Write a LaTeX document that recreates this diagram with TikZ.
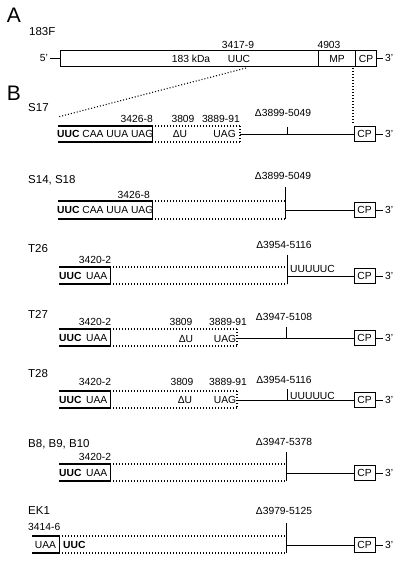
\documentclass[tikz,border=0pt]{standalone}
\usepackage{fontspec}
\setmainfont{Liberation Sans}
\begin{document}
\begin{tikzpicture}[x=1pt,y=-1pt,
	lbl/.style={font=\fontsize{10.3}{12}\selectfont, inner sep=0pt, text height=7.4pt, text depth=0pt},
	rowname/.style={font=\fontsize{11.5}{13}\selectfont, inner sep=0pt, text height=8.2pt, text depth=0pt, anchor=west},
	panel/.style={font=\fontsize{21}{24}\selectfont, inner sep=0pt, text height=15pt, text depth=0pt},
	dots/.style={line width=1.1pt, dash pattern=on 1pt off 2pt},
	seg/.style={line width=0.95pt},
	rim/.style={line width=1.4pt},
	cpbox/.style={draw, line width=0.95pt, minimum width=21pt, minimum height=15pt, inner sep=0pt, font=\fontsize{10.3}{12}\selectfont},
	end/.style={lbl, anchor=west, inner xsep=2pt}]
	\useasboundingbox (0,0) rectangle (400,563);

	% panel A: the whole genome
	\node[panel] (pA) at (14,15) {A};
	\node[rowname] (g183) at (29,31) {183F};
	\draw[seg] (60,50) rectangle (376,66); % genome box
	\draw[seg] (318,50) -- (318,66); % MP start
	\draw[seg] (355,50) -- (355,66); % CP start
	\node[lbl, anchor=east, inner xsep=2pt] (fiveA) at (50,58) {5'};
	\draw[seg] (fiveA.east) -- (60,58);
	\node[end] (threeA) at (383,58) {3'};
	\draw[seg] (376,58) -- (threeA.west);
	\node[lbl] (kda) at (191,59) {183 kDa};
	\node[lbl] (uucA) at (239,59) {UUC};
	\node[lbl] (mp) at (337,59) {MP};
	\node[lbl] (cpA) at (366,59) {CP};
	\node[lbl] (posA) at (238,45) {3417-9};
	\node[lbl] (posB) at (329,45) {4903};
	\draw[dots] (246,68) -- (58,117); % zoom to S17
	\draw[dots] (353,68) -- (353,124);

	% panel B
	\node[panel] (pB) at (14,93) {B};

	% S17
	\node[rowname] (s17) at (28,107) {S17};
	\draw[rim] (58,126) -- (152,126) (58,142) -- (152,142);
	\draw[seg] (152,126) -- (152,142);
	\draw[dots] (152,126) -- (240,126) (152,142) -- (240,142) (240,126) -- (240,142);
	\node[lbl, anchor=west] (seqA) at (57,134) {\textbf{UUC} CAA UUA UAG};
	\node[lbl, anchor=east] (p17a) at (153,119) {3426-8};
	\node[lbl] (p17b) at (183,119) {3809};
	\node[lbl, anchor=east] (p17c) at (240,119) {3889-91};
	\node[lbl] (du17) at (180,134) {ΔU};
	\node[lbl, anchor=east] (uag17) at (236,134) {UAG};
	\node[lbl] (del17) at (283,113) {Δ3899-5049};
	\node[cpbox] (cp17) at (364.5,134) {CP};
	\node[end] (t17) at (383,134) {3'};
	\draw[seg] (240,134) -- (cp17.west);
	\draw[seg] (287,127) -- (287,134); % deletion mark
	\draw[seg] (cp17.east) -- (t17.west);

	% S14, S18
	\node[rowname] (s14) at (28,179) {S14, S18};
	\draw[rim] (58,201) -- (152,201) (58,219) -- (152,219);
	\draw[seg] (152,201) -- (152,219);
	\draw[dots] (152,201) -- (285,201) (152,219) -- (285,219);
	\node[lbl, anchor=west] (seqB) at (57,210) {\textbf{UUC} CAA UUA UAG};
	\node[lbl, anchor=east] (p14a) at (150,195) {3426-8};
	\node[lbl] (del14) at (283,176) {Δ3899-5049};
	\node[cpbox] (cp14) at (364.5,210) {CP};
	\node[end] (t14) at (383,210) {3'};
	\draw[seg] (285,187) -- (285,219);
	\draw[seg] (285,210) -- (cp14.west);
	\draw[seg] (cp14.east) -- (t14.west);

	% T26
	\node[rowname] (t26) at (28,248) {T26};
	\draw[rim] (59,267) -- (110,267) (59,284) -- (110,284);
	\draw[seg] (110,267) -- (110,284);
	\draw[dots] (110,267) -- (287,267) (110,284) -- (287,284);
	\node[lbl, anchor=west] (seqC) at (59,276) {\textbf{UUC}\, UAA};
	\node[lbl] (p26a) at (95,260) {3420-2};
	\node[lbl] (del26) at (284,245) {Δ3954-5116};
	\node[lbl, anchor=west] (u26) at (290,269) {UUUUUC};
	\node[cpbox] (cp26) at (364.5,276) {CP};
	\node[end] (e26) at (383,276) {3'};
	\draw[seg] (287,255) -- (287,284);
	\draw[seg] (287,276) -- (cp26.west);
	\draw[seg] (cp26.east) -- (e26.west);

	% T27
	\node[rowname] (t27) at (28,314) {T27};
	\draw[rim] (59,329) -- (110,329) (59,346) -- (110,346);
	\draw[seg] (110,329) -- (110,346);
	\draw[dots] (110,329) -- (237,329) (110,346) -- (237,346) (237,329) -- (237,346);
	\node[lbl, anchor=west] (seqD) at (59,338) {\textbf{UUC}\, UAA};
	\node[lbl] (p27a) at (95,322) {3420-2};
	\node[lbl] (p27b) at (181,322) {3809};
	\node[lbl] (p27c) at (228,322) {3889-91};
	\node[lbl] (du27) at (186,339) {ΔU};
	\node[lbl] (uag27) at (225,339) {UAG};
	\node[lbl] (del27) at (284,317) {Δ3947-5108};
	\node[cpbox] (cp27) at (364.5,338) {CP};
	\node[end] (e27) at (383,338) {3'};
	\draw[seg] (237,338) -- (cp27.west);
	\draw[seg] (286,327) -- (286,338);
	\draw[seg] (cp27.east) -- (e27.west);

	% T28
	\node[rowname] (t28) at (28,373) {T28};
	\draw[rim] (59,391) -- (110,391) (59,408) -- (110,408);
	\draw[seg] (110,391) -- (110,408);
	\draw[dots] (110,391) -- (237,391) (110,408) -- (237,408) (237,391) -- (237,408);
	\node[lbl, anchor=west] (seqE) at (59,400) {\textbf{UUC}\, UAA};
	\node[lbl] (p28a) at (95,382) {3420-2};
	\node[lbl] (p28b) at (182,382) {3809};
	\node[lbl] (p28c) at (228,382) {3889-91};
	\node[lbl] (du28) at (185,400) {ΔU};
	\node[lbl] (uag28) at (225,400) {UAG};
	\node[lbl] (del28) at (284,380) {Δ3954-5116};
	\node[lbl, anchor=west] (u28) at (290,396) {UUUUUC};
	\node[cpbox] (cp28) at (364.5,400) {CP};
	\node[end] (e28) at (383,400) {3'};
	\draw[seg] (237,400) -- (cp28.west);
	\draw[seg] (287,389) -- (287,400);
	\draw[seg] (cp28.east) -- (e28.west);

	% B8, B9, B10
	\node[rowname] (b8) at (28,443) {B8, B9, B10};
	\draw[rim] (59,464) -- (110,464) (59,481) -- (110,481);
	\draw[seg] (110,464) -- (110,481);
	\draw[dots] (110,464) -- (286,464) (110,481) -- (286,481);
	\node[lbl, anchor=west] (seqF) at (59,473) {\textbf{UUC}\, UAA};
	\node[lbl] (pb8) at (95,457) {3420-2};
	\node[lbl] (delb8) at (284,442) {Δ3947-5378};
	\node[cpbox] (cpb8) at (364.5,473) {CP};
	\node[end] (eb8) at (383,473) {3'};
	\draw[seg] (286,452) -- (286,481);
	\draw[seg] (286,473) -- (cpb8.west);
	\draw[seg] (cpb8.east) -- (eb8.west);

	% EK1
	\node[rowname] (ek1) at (28,510) {EK1};
	\draw[rim] (32,536) -- (59,536) (32,553) -- (59,553);
	\draw[seg] (59,536) -- (59,553);
	\draw[dots] (59,536) -- (286,536) (59,553) -- (286,553);
	\node[lbl] (uaaG) at (45.5,545) {UAA};
	\node[lbl, anchor=west] (uucG) at (63,545) {\textbf{UUC}};
	\node[lbl, anchor=west] (pek) at (28,527) {3414-6};
	\node[lbl] (delek) at (284,511) {Δ3979-5125};
	\node[cpbox] (cpek) at (364.5,545) {CP};
	\node[end] (eek) at (383,545) {3'};
	\draw[seg] (286,523) -- (286,553);
	\draw[seg] (286,545) -- (cpek.west);
	\draw[seg] (cpek.east) -- (eek.west);
\end{tikzpicture}
\end{document}
